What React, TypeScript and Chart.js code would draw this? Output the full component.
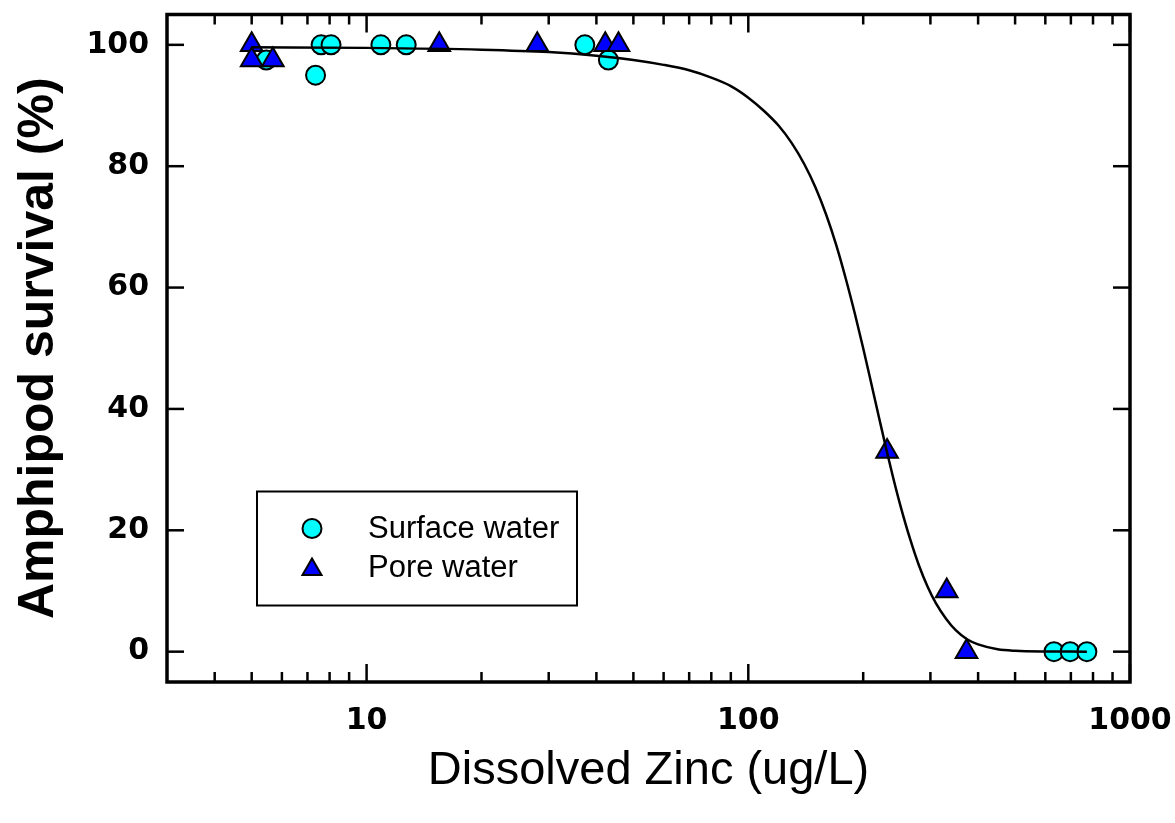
import React, { useEffect, useRef } from 'react';
import { Chart, registerables } from 'chart.js';

Chart.register(...registerables);

// Surface water (circles)
const surfaceX = [5.46, 7.35, 7.6, 8.07, 10.9, 12.7, 37.3, 43, 632, 697, 771];
const surfaceY = [97.5, 95, 100, 100, 100, 100, 100, 97.5, 0, 0, 0];

// Pore water (triangles)
const poreX = [5, 5, 5.68, 15.5, 28, 42.2, 45.7, 231, 331, 373];
const poreY = [100, 97.5, 97.5, 100, 100, 100, 100, 33, 10, 0];

// Fitted curve
const fitX = [5, 10, 20, 30, 40, 50, 60, 70, 80, 90, 100, 110, 120, 130, 140, 150, 160, 170, 180, 190, 200, 210, 220, 230, 240, 250, 265, 280, 295, 310, 330, 350, 375, 400, 450, 500, 600, 771];
const fitY = [99.6, 99.5, 99.2, 98.8, 98.2, 97.5, 96.7, 95.8, 94.6, 93.2, 91.3, 89.1, 86.7, 83.8, 80.4, 76.5, 72, 67, 61.5, 55.8, 50, 44.2, 38.6, 33.3, 28.5, 24.2, 18.7, 14.2, 10.7, 8.0, 5.4, 3.5, 2.0, 1.2, 0.4, 0.15, 0.03, 0];

const xMajorTicks = [10, 100, 1000];
const xMinorTicks = [4, 5, 6, 7, 8, 9, 20, 30, 40, 50, 60, 70, 80, 90, 200, 300, 400, 500, 600, 700, 800, 900];
const yTicks = [0, 20, 40, 60, 80, 100];
const legendLabels = ['Surface water', 'Pore water'];

const CYAN = '#00FFFF';
const BLUE = '#0000FF';

const toPoints = (xs: number[], ys: number[]) => xs.map((x, i) => ({ x, y: ys[i] }));

function drawTriangle(ctx: CanvasRenderingContext2D, x: number, y: number, r: number) {
  ctx.beginPath();
  for (let k = 0; k < 3; k++) {
    const a = (k * 2 * Math.PI) / 3;
    const px = x + Math.sin(a) * r;
    const py = y - Math.cos(a) * r;
    if (k === 0) ctx.moveTo(px, py);
    else ctx.lineTo(px, py);
  }
  ctx.closePath();
}

const framePlugin = {
  id: 'frameTicks',
  afterDatasetsDraw(chart: any) {
    const { ctx, chartArea, scales } = chart;
    const { left, right, top, bottom } = chartArea;
    const xs = scales.x;
    const ys = scales.y;
    ctx.save();
    ctx.strokeStyle = '#000';
    ctx.lineWidth = 2.5;
    ctx.lineCap = 'butt';
    const line = (x1: number, y1: number, x2: number, y2: number) => {
      ctx.beginPath();
      ctx.moveTo(x1, y1);
      ctx.lineTo(x2, y2);
      ctx.stroke();
    };
    for (const v of xMajorTicks) {
      const p = xs.getPixelForValue(v);
      line(p, bottom, p, bottom - 18);
      line(p, top, p, top + 18);
    }
    for (const v of xMinorTicks) {
      const p = xs.getPixelForValue(v);
      line(p, bottom, p, bottom - 10);
      line(p, top, p, top + 10);
    }
    for (const v of yTicks) {
      const p = ys.getPixelForValue(v);
      line(left, p, left + 17, p);
      line(right, p, right - 17, p);
    }
    ctx.lineWidth = 3.5;
    ctx.strokeRect(left, top, right - left, bottom - top);

    // legend
    const bx = left + 90;
    const by = top + 477;
    const bw = 320;
    const bh = 114;
    ctx.lineWidth = 2;
    ctx.strokeRect(bx, by, bw, bh);
    const mx = bx + 55;
    const y1 = by + 37;
    const y2 = by + 76;
    ctx.fillStyle = CYAN;
    ctx.beginPath();
    ctx.arc(mx, y1, 9.5, 0, Math.PI * 2);
    ctx.fill();
    ctx.stroke();
    ctx.fillStyle = BLUE;
    drawTriangle(ctx, mx, y2 + 2, 11);
    ctx.fill();
    ctx.stroke();
    ctx.fillStyle = '#000';
    ctx.font = 'normal 31px "Liberation Sans", Arial, sans-serif';
    ctx.textBaseline = 'middle';
    ctx.textAlign = 'left';
    ctx.fillText(legendLabels[0], bx + 111, y1 + 1);
    ctx.fillText(legendLabels[1], bx + 111, y2 + 1);
    ctx.restore();
  },
};

const zeroPad = (scale: any) => {
  scale.paddingTop = 0;
  scale.paddingBottom = 0;
  scale.paddingLeft = 0;
  scale.paddingRight = 0;
};

export default function App() {
  const ref = useRef<HTMLCanvasElement | null>(null);
  useEffect(() => {
    if (!ref.current) return;
    const chart = new Chart(ref.current, {
      type: 'scatter',
      data: {
        datasets: [
          {
            label: 'Fit',
            data: toPoints(fitX, fitY),
            showLine: true,
            borderColor: '#000',
            borderWidth: 2.5,
            pointRadius: 0,
            cubicInterpolationMode: 'monotone',
            order: 0,
          },
          {
            label: legendLabels[0],
            data: toPoints(surfaceX, surfaceY),
            pointStyle: 'circle',
            pointRadius: 9.5,
            pointBorderWidth: 2,
            backgroundColor: CYAN,
            borderColor: '#000',
            order: 2,
          },
          {
            label: legendLabels[1],
            data: toPoints(poreX, poreY),
            pointStyle: 'triangle',
            pointRadius: 12.5,
            pointBorderWidth: 2,
            backgroundColor: BLUE,
            borderColor: '#000',
            order: 1,
          },
        ],
      } as any,
      options: {
        animation: false,
        responsive: false,
        devicePixelRatio: 1,
        layout: { padding: { left: 0, right: 45, top: 10, bottom: 0 } },
        plugins: { legend: { display: false }, tooltip: { enabled: false } },
        scales: {
          x: {
            type: 'logarithmic',
            min: 3,
            max: 1000,
            grid: { display: false, drawTicks: false },
            border: { display: false },
            afterBuildTicks: (scale: any) => {
              scale.ticks = xMajorTicks.map((v) => ({ value: v }));
            },
            afterFit: (scale: any) => {
              scale.height = 141;
              zeroPad(scale);
            },
            ticks: {
              autoSkip: false,
              maxRotation: 0,
              padding: 21,
              color: '#000',
              font: { family: '"DejaVu Sans"', weight: 'bold', size: 30 },
              callback: (v: any) => String(v),
            },
            title: {
              display: true,
              text: 'Dissolved Zinc (ug/L)',
              color: '#000',
              font: { family: '"Liberation Sans", Arial, sans-serif', size: 47, weight: 'normal', lineHeight: 1 },
              padding: { top: 0, bottom: 28 },
            },
          },
          y: {
            type: 'linear',
            min: -5,
            max: 105,
            grid: { display: false, drawTicks: false },
            border: { display: false },
            afterBuildTicks: (scale: any) => {
              scale.ticks = yTicks.map((v) => ({ value: v }));
            },
            afterFit: (scale: any) => {
              scale.width = 167;
              zeroPad(scale);
            },
            ticks: {
              padding: 18,
              color: '#000',
              font: { family: '"DejaVu Sans"', weight: 'bold', size: 30 },
              callback: (v: any) => String(v),
            },
            title: {
              display: true,
              text: 'Amphipod survival (%)',
              color: '#000',
              font: { family: '"Liberation Sans", Arial, sans-serif', size: 50, weight: 'bold', lineHeight: 1 },
              padding: { top: 14, bottom: 0 },
            },
          },
        },
      } as any,
      plugins: [framePlugin],
    });
    return () => chart.destroy();
  }, []);
  return (
    <div style={{ position: 'fixed', left: 0, top: 0, width: 1175, height: 823, background: '#fff' }}>
      <canvas ref={ref} width={1175} height={823} />
    </div>
  );
}
